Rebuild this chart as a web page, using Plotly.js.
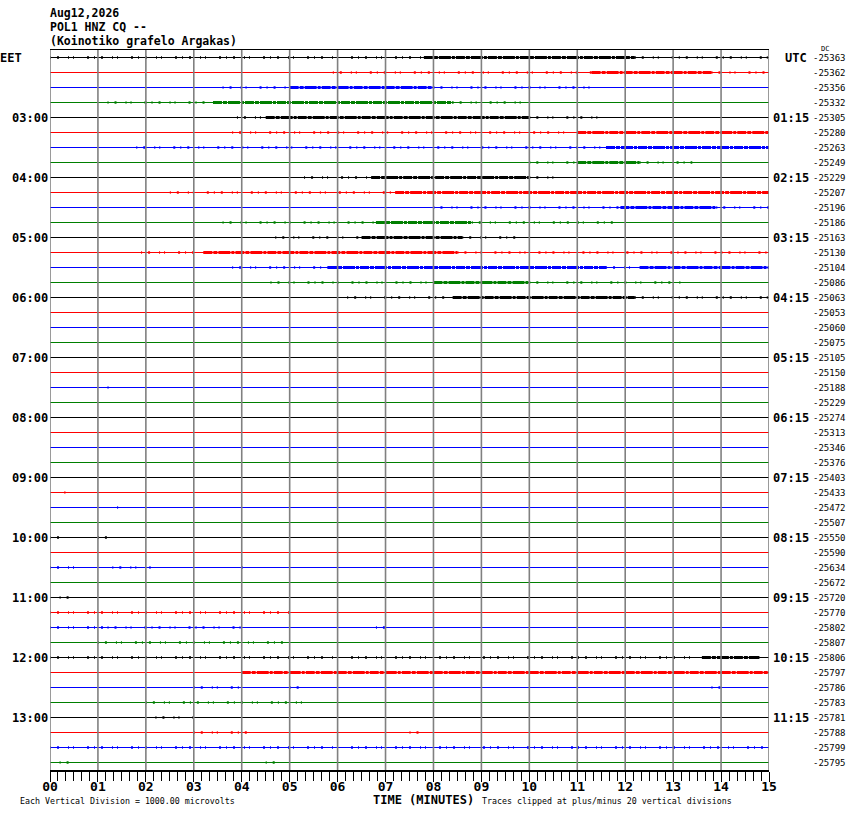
<!DOCTYPE html>
<html><head><meta charset="utf-8">
<script src="https://cdn.plot.ly/plotly-3.0.1.min.js"></script>
<style>html,body{margin:0;padding:0;background:#fff}</style>
</head><body><div id="chart" style="width:850px;height:814px"></div>
<script>
// ---------------- data ----------------
const headerLines = ["Aug12,2026", "POL1 HNZ CQ --", "(Koinotiko grafelo Argakas)"];
const eetLabels = ["EET","03:00","04:00","05:00","06:00","07:00","08:00","09:00","10:00","11:00","12:00","13:00"];
const utcLabels = ["UTC","01:15","02:15","03:15","04:15","05:15","06:15","07:15","08:15","09:15","10:15","11:15"];
const dcValues = [
  -25363,-25362,-25356,-25332,-25305,-25280,-25263,-25249,
  -25229,-25207,-25196,-25186,-25163,-25130,-25104,-25086,
  -25063,-25053,-25060,-25075,-25105,-25150,-25188,-25229,
  -25274,-25313,-25346,-25376,-25403,-25433,-25472,-25507,
  -25550,-25590,-25634,-25672,-25720,-25770,-25802,-25807,
  -25806,-25797,-25786,-25783,-25781,-25788,-25799,-25795
];
const minuteLabels = ["00","01","02","03","04","05","06","07","08","09","10","11","12","13","14","15"];
const traceColors = ["#000000","#ff0000","#0000ff","#007f00"];
// noise activity per line: [row, startMinute, endMinute, level(1 sparse, 2 dense)]
const activity = [
  [0,0,7.8,1],[0,7.8,12.2,2],[0,12.2,15,1],
  [1,5.9,11.3,1],[1,11.3,13.8,2],[1,13.8,15,1],
  [2,3.6,5,1],[2,5,8,2],[2,8,11.3,1],
  [3,1.2,3.4,1],[3,3.4,8.4,2],[3,8.4,10,1],
  [4,3.9,4.5,1],[4,4.5,10,2],[4,10,11.5,1],
  [5,3.8,11,1],[5,11,15,2],
  [6,1.8,11.6,1],[6,11.6,15,2],
  [7,10,11,1],[7,11,12.3,2],[7,12.3,13.4,1],
  [8,5.3,6.7,1],[8,6.7,10,2],[8,10,10.7,1],
  [9,2.5,7.2,1],[9,7.2,15,2],
  [10,8,11.9,1],[10,11.9,13.9,2],[10,13.9,15,1],
  [11,3.6,6.8,1],[11,6.8,8.8,2],[11,8.8,11.8,1],
  [12,4.7,6.5,1],[12,6.5,8.6,2],[12,8.6,9.8,1],
  [13,1.9,3.2,1],[13,3.2,8.5,2],[13,8.5,15,1],
  [14,3.8,5.8,1],[14,5.8,11.6,2],[14,11.6,12.3,1],[14,12.3,15,2],
  [15,4.6,8,1],[15,8,10,2],[15,10,13.2,1],
  [16,6.2,8.4,1],[16,8.4,12.2,2],[16,12.2,15,1],
  [22,1.2,1.3,1],
  [29,0.3,0.4,1],
  [30,1.4,1.5,1],
  [32,0,0.3,1],[32,1,1.2,1],
  [34,0,0.6,1],[34,1.3,2.1,1],[34,4,4.1,1],
  [36,0.2,0.4,1],
  [37,0,5,1],
  [38,0,1.2,1],[38,1.2,4,1],[38,6.8,7,1],
  [39,1,5,1],
  [40,0,13.6,1],[40,13.6,14.8,2],
  [41,4,15,2],
  [42,3,4,1],[42,5,5.2,1],[42,13.8,14,1],
  [43,2,5.5,1],
  [44,2.2,3,1],
  [45,3,4.2,1],[45,7.5,7.7,1],
  [46,0,15,1],
  [47,0.2,0.4,1],[47,4.5,4.7,1]
];

// ---------------- build ----------------
const nRows = dcValues.length;
const nMin = minuteLabels.length - 1;
const sparseDash = '1px,6px,2px,9px,1px,4px,1px,13px,2px,5px';
const denseDash = '9px,1px,4px,1px,12px,1px,3px,1px';
const traces = [];
traceColors.forEach((col, c) => {
  const bx = [], by = [];
  for (let r = c; r < nRows; r += traceColors.length) {
    bx.push(0, nMin, null); by.push(r, r, null);
  }
  traces.push({x: bx, y: by, mode: 'lines', line: {color: col, width: 1.2}, hoverinfo: 'skip', showlegend: false});
  [1, 2].forEach(lv => {
    const x = [], y = [];
    activity.filter(a => a[0] % traceColors.length === c && a[3] === lv).forEach(a => {
      x.push(a[1], a[2], null); y.push(a[0], a[0], null);
    });
    traces.push({x, y, mode: 'lines',
      line: {color: col, width: lv === 1 ? 2.6 : 3, dash: lv === 1 ? sparseDash : denseDash},
      hoverinfo: 'skip', showlegend: false});
  });
});

const mono = "DejaVu Sans Mono";
const annotations = [];
headerLines.forEach((t, i) => {
  annotations.push({text: t, xref: 'paper', yref: 'paper', x: 0, y: 1, xanchor: 'left', yanchor: 'middle',
    xshift: -2, yshift: [37, 23.5, 9][i], showarrow: false, font: {family: mono, size: 11.5, weight: 'bold', color: '#000'}});
});
eetLabels.forEach((t, k) => {
  const row = k * 4;
  annotations.push({text: t, xref: 'paper', yref: 'y', x: 0, y: row,
    xanchor: k === 0 ? 'left' : 'right', xshift: k === 0 ? -52 : 0, yanchor: 'middle', showarrow: false,
    font: {family: mono, size: 12, weight: 'bold', color: '#000'}});
});
utcLabels.forEach((t, k) => {
  const row = k * 4;
  annotations.push({text: t, xref: 'paper', yref: 'y', x: 1, y: row,
    xanchor: 'left', xshift: k === 0 ? 14 : 2, yanchor: 'middle', showarrow: false,
    font: {family: mono, size: 12, weight: 'bold', color: '#000'}});
});
dcValues.forEach((v, r) => {
  annotations.push({text: String(v), xref: 'paper', yref: 'y', x: 1, y: r,
    xanchor: 'left', xshift: 42, yanchor: 'middle', showarrow: false,
    font: {family: mono, size: 9, color: '#000'}});
});
annotations.push({text: 'DC', xref: 'paper', yref: 'paper', x: 1, y: 1, xanchor: 'left', yanchor: 'bottom',
  xshift: 50, yshift: -5, showarrow: false, font: {family: mono, size: 7, color: '#000'}});
annotations.push({text: 'TIME (MINUTES)', xref: 'paper', yref: 'paper', x: 0, y: 0, xanchor: 'left', yanchor: 'top',
  xshift: 322, yshift: -22, borderpad: 0, showarrow: false, font: {family: mono, size: 12, weight: 'bold', color: '#000'}});
annotations.push({text: 'Each Vertical Division = 1000.00 microvolts', xref: 'paper', yref: 'paper', x: 0, y: 0,
  xanchor: 'left', yanchor: 'middle', xshift: -32, yshift: -31, showarrow: false,
  font: {family: mono, size: 8.3, color: '#000'}});
annotations.push({text: 'Traces clipped at plus/minus 20 vertical divisions', xref: 'paper', yref: 'paper', x: 0, y: 0,
  xanchor: 'left', yanchor: 'middle', xshift: 430, yshift: -31, showarrow: false,
  font: {family: mono, size: 8.3, color: '#000'}});

const minuteVals = minuteLabels.map((_, i) => i);
const shapes = minuteVals.map(m => ({type: 'line', xref: 'x', yref: 'paper', x0: m, x1: m, y0: 0, y1: 1,
  line: {color: '#808080', width: 1.6}, layer: 'above'}));

const layout = {
  width: 850, height: 814,
  margin: {l: 50, r: 81, t: 50, b: 44},
  paper_bgcolor: '#fff', plot_bgcolor: '#fff',
  xaxis: {range: [0, nMin], tickvals: minuteVals, ticktext: minuteLabels, ticks: 'outside', ticklen: 10,
    tickcolor: '#000', tickwidth: 1, showline: true, linecolor: '#000', linewidth: 1.5, mirror: true,
    showgrid: false, zeroline: false, fixedrange: true, ticklabelstandoff: -6,
    minor: {dtick: 1/6, ticks: 'outside', ticklen: 9, tickcolor: '#000', tickwidth: 1, showgrid: false},
    tickfont: {family: mono, size: 13, weight: 'bold', color: '#000'}},
  yaxis: {range: [nRows - 0.5, -0.5], showticklabels: false, showgrid: false, zeroline: false,
    showline: false, ticks: '', fixedrange: true},
  annotations, shapes, showlegend: false
};
Plotly.newPlot('chart', traces, layout, {staticPlot: true, displayModeBar: false});
</script></body></html>
